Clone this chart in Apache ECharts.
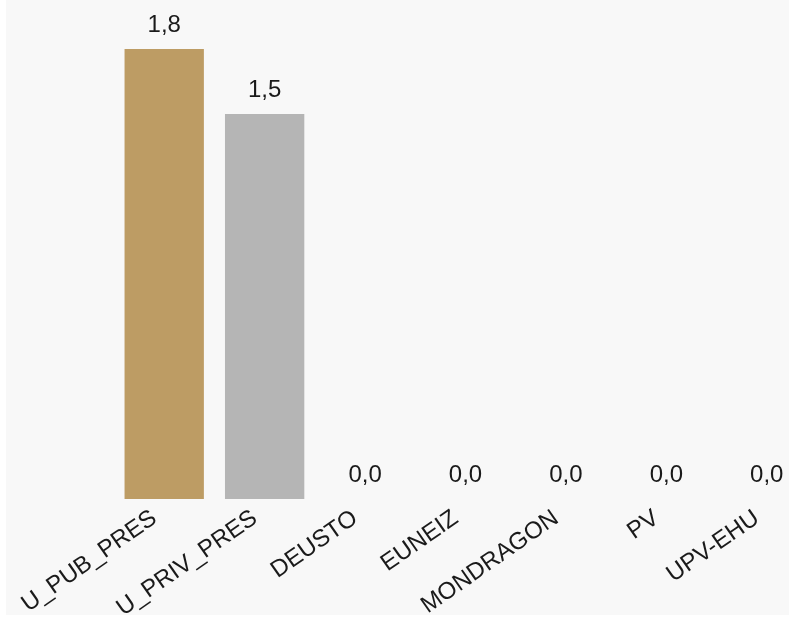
<!DOCTYPE html>
<html>
<head>
<meta charset="utf-8">
<script src="https://cdn.jsdelivr.net/npm/echarts@6/dist/echarts.min.js"></script>
<style>
html,body{margin:0;padding:0;background:#ffffff;width:789px;height:619px;overflow:hidden;}
#chart{position:absolute;left:6px;top:0;width:783px;height:615px;}
</style>
</head>
<body>
<div id="chart"></div>
<script>
const categories = ['U_PUB_PRES','U_PRIV_PRES','DEUSTO','EUNEIZ','MONDRAGON','PV','UPV-EHU'];
const values = [1.8, 1.54, 0, 0, 0, 0, 0];
const barColors = ['#bd9c64','#b5b5b5','#b5b5b5','#b5b5b5','#b5b5b5','#b5b5b5','#b5b5b5'];

const chart = echarts.init(document.getElementById('chart'));
const fontFamily = '"Liberation Sans", Arial, sans-serif';
chart.setOption({
  backgroundColor: '#f8f8f8',
  animation: false,
  grid: {left: 108, width: 703, top: 49, bottom: 116, containLabel: false, outerBoundsMode: 'none'},
  xAxis: {
    type: 'category',
    data: categories,
    axisLine: {show: false},
    axisTick: {show: false},
    axisLabel: {rotate: 35, margin: 10, padding: [0, 12, 0, 0], fontSize: 24, color: '#1a1a1a', fontFamily: fontFamily, interval: 0}
  },
  yAxis: {type: 'value', min: 0, max: 1.8, show: false, splitLine: {show: false}},
  series: [{
    type: 'bar',
    data: values.map((v, i) => ({value: v, itemStyle: {color: barColors[i]}})),
    barCategoryGap: '21%',
    label: {
      show: true, position: 'top', distance: 12, fontSize: 24, color: '#1a1a1a', fontFamily: fontFamily,
      formatter: p => p.value.toFixed(1).replace('.', ',')
    }
  }]
});
</script>
</body>
</html>
